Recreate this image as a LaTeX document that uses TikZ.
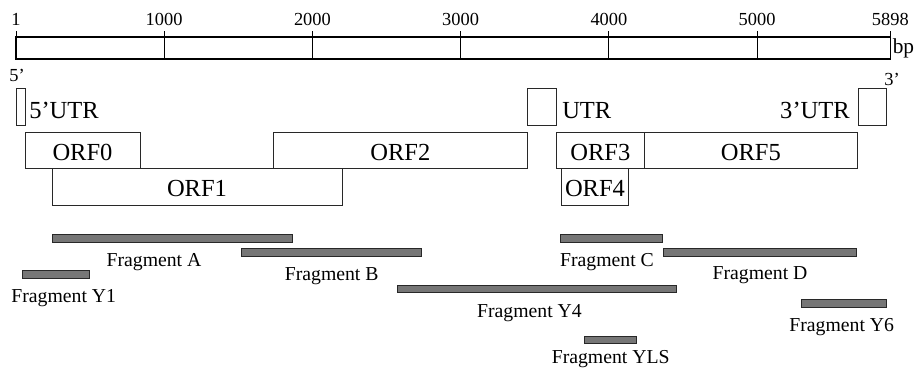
\documentclass[tikz,border=0pt]{standalone}
\usepackage{fontspec}
\setmainfont{Liberation Serif}
\definecolor{fragfill}{RGB}{118,118,118}
\definecolor{edge}{RGB}{40,40,40}
\newcommand\rectnode[7]{%
  \node[#1, minimum width={(#5-#3)*0.75pt}, minimum height={(#6-#4)*0.75pt}] (#2) at ({(#3+#5)/2},{(#4+#6)/2}) {#7};}
\begin{document}
\begin{tikzpicture}[x=0.75pt,y=-0.75pt,
  box/.style={draw=edge, line width=0.75pt, inner sep=0pt, outer sep=0pt, font=\fontsize{18.4}{20}\selectfont, text height=15pt, text depth=0pt},
  scalebox/.style={draw=black, line width=0.9pt, inner sep=0pt, outer sep=0pt},
  tick/.style={draw=black, line width=0.75pt},
  frag/.style={draw=edge, fill=fragfill, line width=0.75pt, inner sep=0pt, outer sep=0pt},
  biglabel/.style={font=\fontsize{18.4}{20}\selectfont, anchor=base, inner sep=0pt},
  fraglabel/.style={font=\fontsize{14.8}{16}\selectfont, anchor=base, inner sep=0pt},
  scalelabel/.style={font=\fontsize{13.8}{15}\selectfont, anchor=base, inner sep=0pt},
]
\useasboundingbox (0,0) rectangle (917,368);

% scale bar
\rectnode{scalebox}{bar}{16}{37}{890.3}{59}{}
\foreach \v/\x [count=\i] in {1/16, 1000/164.1, 2000/312.4, 3000/460.6, 4000/608.9, 5000/757.1, 5898/890.3}{
  \coordinate (t\i top) at (\x,31);
  \coordinate (t\i bot) at (\x,59);
  \draw[tick] (t\i top) -- (t\i bot);
  \node[scalelabel] (n\i) at (\x,25) {\v};
}
\node[font=\fontsize{16}{17}\selectfont, anchor=base west, inner sep=0pt] (bp) at (892.5,53.3) {bp};

% ends
\node[scalelabel] (five) at (17,81.7) {5'};
\node[scalelabel] (three) at (892,85) {3'};

% UTR boxes
\rectnode{box}{utr5}{16}{88}{25}{125}{}
\rectnode{box}{utrm}{527.7}{88}{556}{125}{}
\rectnode{box}{utr3}{858}{88}{886}{125}{}
\node[biglabel, anchor=base west] (lutr5) at (29,118.3) {5'UTR};
\node[biglabel, anchor=base west] (lutrm) at (562,118.3) {UTR};
\node[biglabel, anchor=base east] (lutr3) at (850,118.3) {3'UTR};

% ORFs
\rectnode{box}{orf0}{25}{132.3}{140}{168.7}{ORF0}
\rectnode{box}{orf2}{273}{132.3}{527.7}{168.7}{ORF2}
\rectnode{box}{orf3}{556.7}{132.3}{644}{168.7}{ORF3}
\rectnode{box}{orf5}{644}{132.3}{857.7}{168.7}{ORF5}
\rectnode{box}{orf1}{52}{168.7}{342}{205}{ORF1}
\rectnode{box}{orf4}{561.7}{168.7}{628.3}{205}{ORF4}

% fragments
\rectnode{frag}{fa}{52}{234}{292.7}{242}{}
\rectnode{frag}{fb}{241.7}{248.7}{421}{256.3}{}
\rectnode{frag}{fy1}{22}{270.7}{89}{278.3}{}
\rectnode{frag}{fy4}{397}{285.3}{676.7}{292.7}{}
\rectnode{frag}{fc}{560}{234}{662}{242}{}
\rectnode{frag}{fd}{663.3}{248.7}{856.7}{256.3}{}
\rectnode{frag}{fy6}{801.3}{299.3}{886}{307.3}{}
\rectnode{frag}{fyls}{584}{336}{636}{343.3}{}

\node[fraglabel] (lfa) at (154,266.7) {Fragment A};
\node[fraglabel] (lfb) at (331.7,280.7) {Fragment B};
\node[fraglabel] (lfy1) at (63.7,302.7) {Fragment Y1};
\node[fraglabel] (lfy4) at (529.5,317.3) {Fragment Y4};
\node[fraglabel] (lfc) at (607,266.7) {Fragment C};
\node[fraglabel] (lfd) at (760,279.3) {Fragment D};
\node[fraglabel] (lfy6) at (841.7,331) {Fragment Y6};
\node[fraglabel] (lfyls) at (610.7,363.3) {Fragment YLS};
\end{tikzpicture}
\end{document}
